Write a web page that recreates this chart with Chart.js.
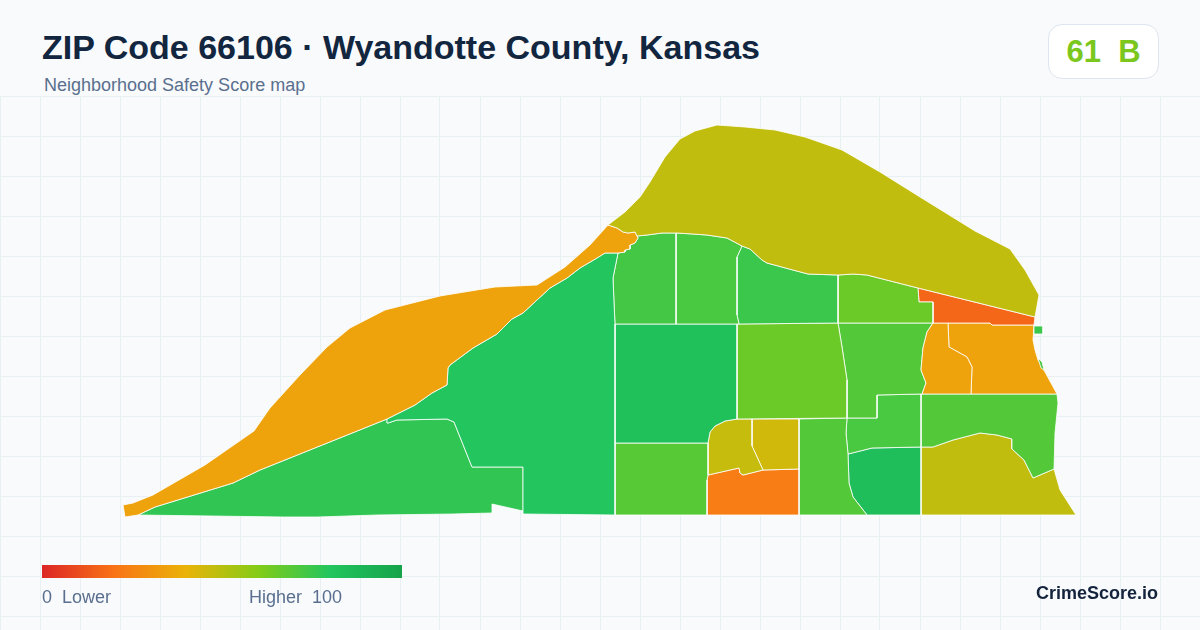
<!DOCTYPE html>
<html lang="en">
<head>
  <meta charset="UTF-8">
  <title>ZIP Code 66106 · Wyandotte County, Kansas</title>
  <script src="https://cdn.jsdelivr.net/npm/chart.js"></script>
  <style>
    html, body { margin: 0; padding: 0; }
    body {
      position: relative;
      width: 1200px;
      height: 630px;
      overflow: hidden;
      background: #f8fafc;
      font-family: "Liberation Sans", Arial, sans-serif;
    }
    .map { position: absolute; left: 0; top: 96px; width: 1200px; height: 534px; }
    h1 { position: absolute; left: 42px; top: 26px; margin: 0; font-size: 34px; line-height: 42px; font-weight: 700; color: #12263f; white-space: nowrap; }
    .subtitle { position: absolute; left: 44px; top: 75px; font-size: 18px; line-height: 20px; color: #5a6f8e; white-space: nowrap; }
    .badge {
      position: absolute; left: 1048px; top: 24px; width: 109px; height: 53px;
      background: #fff; border: 1px solid #dfe5ee; border-radius: 14px;
      text-align: center; font-size: 31px; line-height: 53px; font-weight: 700; color: #7bc71d; white-space: pre;
    }
    .ramp { position: absolute; left: 42px; top: 565px; width: 360px; height: 13px; }
    .rampLabel { position: absolute; top: 587px; font-size: 18px; line-height: 20px; color: #5a6f8e; white-space: pre; }
    .brand { position: absolute; right: 42px; top: 583px; font-size: 18px; line-height: 20px; font-weight: 700; color: #14233c; }
  </style>
</head>
<body>
  <div class="map"><canvas id="mapChart" width="1200" height="534"></canvas></div>
  <h1>ZIP Code 66106 · Wyandotte County, Kansas</h1>
  <div class="subtitle">Neighborhood Safety Score map</div>
  <div class="badge">61  B</div>
  <div class="ramp" id="ramp"></div>
  <div class="rampLabel" style="left:42px">0  Lower</div>
  <div class="rampLabel" style="left:249px">Higher  100</div>
  <div class="brand">CrimeScore.io</div>
  <script>
    // score ramp, same stops as the legend bar
    const rampStops = [0, 20, 40, 60, 80, 100];
    const rampColors = ["#dc2626", "#f97316", "#eab308", "#84cc16", "#22c55e", "#16a34a"];

    const gridX = [0, 40, 80, 120, 160, 200, 240, 280, 320, 360, 400, 440, 480, 520, 560, 600, 640, 680, 720, 760, 800, 840, 880, 920, 960, 1000, 1040, 1080, 1120, 1160];
    const gridY = [96, 136, 176, 216, 256, 296, 336, 376, 416, 456, 496, 536, 576, 616];

    // tract outlines in map units
    const northRiver = [[608,225],[625,212],[640,197],[650,182],[665,157],[680,139],[695,131],[717,125],[745,127],[775,130],[805,137],[842,150],[880,172],[920,197],[975,231],[1010,249],[1025,270],[1039,295],[1035,317],[918,288],[867,275],[853,274],[838,275],[808,274],[793,270],[767,263],[762,260],[750,249],[742,246],[727,238],[707,235],[693,234],[677,233],[662,233],[647,235],[637,236],[635,232],[628,233],[623,232],[617,228]];
    const riverStrip = [[123,505],[133,503],[153,495],[205,465],[254,431],[270,408],[300,375],[327,347],[350,328],[385,310],[440,296],[495,287],[537,285],[565,267],[590,245],[608,225],[617,228],[623,232],[628,233],[635,232],[637,236],[638,238],[635,243],[630,245],[630,249],[625,250],[625,252],[618,253],[605,253],[597,258],[580,268],[567,278],[550,288],[537,300],[523,313],[512,319],[497,334],[473,348],[450,365],[448,368],[447,385],[432,393],[415,405],[387,419],[260,470],[233,483],[155,507],[138,515],[125,517]];
    const westCentral = [[605,253],[618,253],[613,278],[614,303],[615,324],[615,515],[523,514],[523,467],[472,467],[454,422],[447,419],[397,420],[388,423],[387,419],[415,405],[432,393],[447,385],[448,368],[450,365],[473,348],[497,334],[512,319],[523,313],[537,300],[550,288],[567,278],[580,268],[597,258]];
    const southWest = [[523,467],[472,467],[454,422],[447,419],[397,420],[388,423],[387,419],[260,470],[233,483],[155,507],[138,515],[283,517],[318,517],[377,515],[453,514],[492,513],[492,504],[523,511]];
    const topA = [[618,253],[625,252],[625,250],[630,249],[630,245],[635,243],[638,238],[637,236],[647,235],[662,233],[676,233],[676,324],[615,324],[614,303],[613,278]];
    const topB = [[676,233],[693,234],[707,235],[727,238],[742,246],[737,257],[737,287],[737,315],[739,324],[676,324]];
    const topC = [[742,246],[750,249],[762,260],[767,263],[793,270],[808,274],[838,275],[838,323],[739,324],[737,315],[737,287],[737,257]];
    const topD = [[838,275],[853,274],[867,275],[918,288],[919,302],[933,302],[933,323],[838,323]];
    const riverEdge = [[918,288],[1035,317],[1034,325],[992,325],[990,323],[933,323],[933,302],[919,302]];
    const eastSquare = [[1034,326],[1043,326],[1043,334],[1034,334]];
    const eastSliver = [[1038,358],[1042,362],[1044,370],[1041,368]];
    const eastA = [[933,323],[948,323],[949,347],[967,357],[972,367],[971,394],[922,394],[926,383],[921,370],[923,348],[927,332]];
    const eastB = [[948,323],[990,323],[992,325],[1034,325],[1033,340],[1035,350],[1038,360],[1045,372],[1057,394],[971,394],[972,367],[967,357],[949,347]];
    const midA = [[615,324],[737,324],[737,419],[725,421],[715,426],[710,432],[708,443],[615,443]];
    const midB = [[737,324],[838,323],[842,347],[847,380],[847,418],[737,419]];
    const midC = [[838,323],[933,323],[927,332],[923,348],[921,370],[926,383],[922,394],[877,395],[877,418],[847,418],[847,380],[842,347]];
    const lowA = [[615,443],[708,443],[708,475],[707,480],[707,515],[615,515]];
    const lowB = [[737,419],[752,419],[752,446],[763,470],[743,475],[740,473],[739,468],[708,475],[708,443],[710,432],[715,426],[725,421]];
    const lowC = [[752,419],[799,419],[799,469],[763,470],[752,446]];
    const lowD = [[708,475],[739,468],[740,473],[743,475],[763,470],[799,469],[799,515],[707,515],[707,480]];
    const lowE = [[799,419],[847,418],[846,433],[848,454],[849,483],[853,497],[867,515],[799,515]];
    const lowF = [[847,418],[877,418],[877,395],[921,394],[921,447],[872,448],[848,454],[846,433]];
    const lowG = [[848,454],[872,448],[921,447],[921,515],[867,515],[853,497],[849,483]];
    const seA = [[921,394],[1057,394],[1058,403],[1055,433],[1054,469],[1033,478],[1024,460],[1012,449],[1012,439],[997,435],[980,433],[953,440],[933,447],[921,447]];
    const seB = [[921,447],[933,447],[953,440],[980,433],[997,435],[1012,439],[1012,449],[1024,460],[1033,478],[1054,469],[1060,490],[1076,515],[921,515]];

    const tracts = [northRiver, riverStrip, westCentral, southWest, topA, topB, topC, topD, riverEdge, eastSquare, eastSliver, eastA, eastB, midA, midB, midC, lowA, lowB, lowC, lowD, lowE, lowF, lowG, seA, seB];
    const tractScores = [48, 35, 80, 77, 73, 72, 75, 65, 17, 75, 72, 35, 35, 83, 65, 70, 69, 47, 45, 23, 70, 72, 84, 70, 48];

    function hexToRgb(hex) {
      return [1, 3, 5].map(i => parseInt(hex.slice(i, i + 2), 16));
    }

    function scoreColor(score) {
      let i = 0;
      while (i < rampStops.length - 2 && score > rampStops[i + 1]) i++;
      const t = (score - rampStops[i]) / (rampStops[i + 1] - rampStops[i]);
      const a = hexToRgb(rampColors[i]);
      const b = hexToRgb(rampColors[i + 1]);
      const rgb = a.map((v, k) => Math.round(v + (b[k] - v) * t));
      return `rgb(${rgb.join(",")})`;
    }

    document.getElementById("ramp").style.background =
      `linear-gradient(90deg, ${rampColors.map((c, i) => `${c} ${rampStops[i]}%`).join(", ")})`;

    const datasets = tracts.map((outline, i) => ({
      data: outline.concat([outline[0]]).map(p => ({ x: p[0], y: p[1] })),
      backgroundColor: scoreColor(tractScores[i]),
      borderColor: "#ffffff",
      borderWidth: 0.8,
      borderJoinStyle: "round",
      fill: "shape",
      tension: 0,
      pointRadius: 0,
      pointHitRadius: 0
    }));

    new Chart(document.getElementById("mapChart"), {
      type: "line",
      data: { datasets },
      options: {
        responsive: false,
        animation: false,
        layout: { padding: 0 },
        plugins: { legend: { display: false }, tooltip: { enabled: false } },
        scales: {
          x: {
            type: "linear",
            min: 0,
            max: 1200,
            afterBuildTicks: scale => { scale.ticks = gridX.map(value => ({ value })); },
            ticks: { display: false },
            border: { display: false },
            grid: { color: "#e8f0f4", lineWidth: 1, drawTicks: false }
          },
          y: {
            type: "linear",
            reverse: true,
            min: 96,
            max: 630,
            afterBuildTicks: scale => { scale.ticks = gridY.map(value => ({ value })); },
            ticks: { display: false },
            border: { display: false },
            grid: { color: "#e8f0f4", lineWidth: 1, drawTicks: false }
          }
        }
      }
    });
  </script>
</body>
</html>
